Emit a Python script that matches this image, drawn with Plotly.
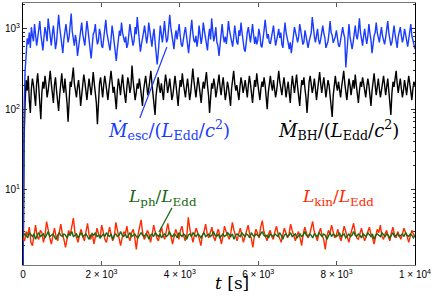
import numpy as np
import plotly.graph_objects as go

# --- data ---
blue = [0.5, 90, 300, 520, 760, 640, 900, 580, 1050, 820, 700, 1150, 820, 620, 760,
        980, 1250, 860, 660, 540, 780, 1050, 900, 700, 1350, 980, 740, 620, 860, 1100,
        800, 560, 680, 950, 1500, 1050, 820, 640, 500, 740, 900, 1150, 880, 680, 800,
        1100, 1550, 920, 780, 620, 840, 700, 460, 580, 820, 1000, 1200, 860, 740, 620,
        900, 1250, 980, 680, 560, 430, 640, 860, 920, 1150, 800, 640, 720, 1000, 860,
        620, 580, 820, 1050, 1300, 900, 760, 620, 540, 740, 1100, 880, 680, 600, 400,
        560, 800, 950, 820, 1200, 900, 740, 680, 800, 580, 640, 960, 1150, 900, 780,
        620, 720, 1050, 860, 1400, 1000, 680, 520, 640, 740, 900, 1100, 800, 660, 820,
        1200, 950, 720, 600, 820, 1000, 700, 540, 360, 500, 820, 1100, 860, 680, 900,
        1250, 880, 680, 740, 1000, 1500, 1050, 820, 680, 560, 780, 960, 740, 900, 1150,
        820, 640, 600, 800, 900, 1050, 780, 640, 500, 700, 960, 1300, 900, 720, 680,
        820, 600, 740, 1100, 900, 650, 800, 1200, 960, 820, 650, 540, 800, 1000, 740,
        1350, 950, 700, 820, 1050, 680, 620, 460, 650, 900, 1150, 820, 680, 800, 650,
        860, 1250, 960, 800, 720, 600, 780, 1100, 860, 680, 640, 960, 820, 1200, 900,
        700, 560, 520, 740, 900, 1050, 820, 680, 880, 1150, 850, 650, 800, 640, 720,
        1000, 850, 620, 590, 720, 960, 1300, 960, 760, 860, 680, 650, 780, 900, 1100,
        800, 620, 720, 820, 1000, 770, 900, 640, 580, 870, 1200, 900, 800, 670, 560,
        680, 500, 720, 820, 1050, 900, 740, 680, 800, 1150, 960, 820, 640, 680, 960,
        820, 640, 580, 700, 820, 900, 1400, 1000, 800, 680, 820, 1000, 740, 640, 740,
        860, 1100, 880, 780, 580, 640, 700, 900, 1250, 900, 830, 670, 740, 800, 960,
        720, 620, 600, 740, 820, 1050, 870, 770, 330, 560, 900, 1150, 800, 640, 560,
        680, 900, 1100, 820, 740, 960, 1350, 900, 680, 620, 820, 1000, 780, 650, 820,
        1150, 880, 720, 500, 670, 820, 900, 1200, 900, 770, 680, 860, 1050, 820, 700,
        640, 780, 960, 1250, 900, 740, 620, 680, 820, 1100, 850, 720, 580, 800, 900,
        1050, 820, 680, 780, 1000, 860, 650, 600, 740, 960, 1150, 820, 680, 640, 560]
black = [0.5, 40, 120, 230, 170, 260, 130, 90, 180, 240, 200, 150, 110, 210, 280,
         190, 130, 75, 160, 220, 180, 260, 200, 140, 170, 230, 300, 210, 150, 120,
         200, 250, 170, 130, 95, 150, 210, 280, 190, 160, 240, 180, 120, 70, 140,
         220, 190, 260, 330, 210, 160, 140, 190, 230, 170, 110, 150, 200, 270, 220,
         160, 130, 180, 240, 190, 150, 200, 290, 210, 160, 120, 65, 150, 210, 250,
         180, 140, 200, 260, 210, 170, 130, 180, 230, 300, 220, 160, 190, 140, 100,
         170, 240, 200, 150, 210, 270, 190, 140, 120, 180, 250, 210, 160, 190, 350,
         230, 170, 130, 160, 210, 180, 240, 190, 140, 110, 170, 220, 260, 200, 150,
         180, 240, 300, 210, 160, 120, 85, 150, 200, 250, 190, 160, 210, 170, 130,
         200, 270, 220, 160, 190, 240, 180, 130, 150, 210, 260, 200, 150, 110, 170,
         230, 190, 280, 210, 160, 140, 190, 240, 180, 130, 160, 220, 320, 230, 170,
         140, 190, 250, 200, 150, 120, 170, 220, 180, 240, 290, 200, 150, 90, 160,
         210, 180, 240, 200, 140, 170, 230, 270, 190, 150, 200, 250, 180, 130, 160,
         220, 190, 150, 110, 180, 240, 300, 210, 170, 200, 160, 130, 190, 250, 210,
         160, 190, 230, 180, 140, 200, 260, 210, 150, 120, 170, 230, 190, 280, 210,
         160, 130, 180, 220, 190, 250, 200, 150, 100, 160, 210, 260, 200, 170, 230,
         190, 140, 170, 240, 300, 220, 170, 150, 200, 250, 190, 140, 180, 220, 160,
         120, 190, 260, 200, 160, 210, 270, 190, 150, 110, 170, 230, 200, 250, 180,
         140, 90, 160, 220, 260, 200, 160, 190, 240, 180, 130, 170, 230, 290, 210,
         160, 200, 250, 190, 140, 180, 230, 200, 150, 120, 80, 150, 210, 260, 200,
         170, 220, 180, 140, 190, 250, 300, 210, 160, 130, 180, 240, 200, 150, 190,
         230, 180, 270, 200, 150, 120, 170, 220, 190, 250, 210, 160, 140, 190, 240,
         200, 160, 110, 170, 230, 280, 200, 150, 190, 240, 180, 140, 170, 220, 260,
         200, 150, 190, 240, 170, 130, 85, 160, 220, 190, 250, 300, 210, 160, 200,
         240, 180, 140, 170, 230, 190, 150, 200, 260, 210, 160, 130, 180, 220, 190]
red = [2.5, 2.3, 3.0, 2.7, 3.4, 2.2, 2.0, 2.8, 3.6, 2.6,
       2.4, 3.1, 2.9, 2.2, 2.7, 4.0, 3.0, 2.5, 2.1, 2.8,
       3.3, 2.6, 2.3, 2.9, 3.7, 2.8, 2.4, 1.9, 2.6, 3.1,
       2.7, 3.5, 4.4, 2.9, 2.5, 2.2, 2.8, 3.2, 2.6, 2.3,
       3.0, 3.8, 2.7, 2.4, 2.9, 2.1, 2.6, 3.3, 2.8, 2.5,
       3.6, 3.0, 2.4, 2.2, 2.9, 3.4, 2.7, 2.3, 2.6, 3.9,
       3.1, 2.6, 2.0, 2.5, 3.0, 2.8, 3.5, 2.6, 2.3, 2.9,
       3.2, 2.5, 1.8, 2.7, 3.3, 4.2, 2.9, 2.4, 2.6, 3.1,
       2.8, 2.2, 2.7, 3.6, 3.0, 2.5, 2.3, 2.9, 3.4, 2.7,
       2.4, 3.0, 3.8, 2.9, 2.6, 2.1, 2.7, 3.2, 2.8, 2.4,
       3.1, 3.5, 2.7, 2.3, 2.6, 4.5, 3.2, 2.6, 2.2, 2.8,
       3.3, 2.9, 2.5, 2.0, 2.7, 3.0, 3.7, 2.8, 2.5, 2.9,
       3.4, 2.6, 2.3, 2.8, 3.2, 2.7, 2.1, 2.6, 3.5, 3.0,
       2.6, 2.4, 2.9, 3.9, 3.1, 2.6, 2.3, 2.8, 3.3, 2.7,
       2.2, 2.6, 3.0, 3.6, 2.8, 2.5, 1.9, 2.7, 3.2, 2.9,
       2.5, 3.4, 4.1, 3.0, 2.6, 2.3, 2.8, 3.1, 2.6, 2.4,
       3.0, 3.5, 2.8, 2.4, 2.2, 2.7, 3.3, 2.9, 2.5, 2.8,
       3.7, 3.1, 2.6, 2.3, 2.7, 3.0, 2.5, 2.0, 2.8, 3.4,
       2.9, 2.5, 2.7, 3.2, 4.0, 3.0, 2.6, 2.3, 2.9, 3.3,
       2.7, 2.4, 1.8, 2.6, 3.1, 2.8, 3.6, 2.9, 2.5, 2.7,
       3.2, 2.6, 2.3, 2.8, 3.5, 3.0, 2.6, 2.2, 2.7, 3.1,
       3.8, 2.9, 2.5, 2.4, 2.8, 3.3, 2.7, 2.3, 2.6, 3.0,
       3.4, 2.8, 2.5, 2.1, 2.7, 3.2, 2.9, 3.6, 2.6, 2.4,
       2.8, 3.1, 2.6, 2.3, 2.9, 3.4, 2.7, 2.5, 3.0, 2.6,
       2.4, 2.8, 3.3, 2.9, 2.6, 2.2, 2.7, 3.1, 2.8, 2.6]
green = [2.6, 2.8, 2.7, 2.5, 2.9, 2.7, 2.6, 2.8, 2.4, 2.7,
         2.9, 2.6, 2.7, 2.8, 2.5, 2.7, 3.0, 2.6, 2.7, 2.8,
         2.6, 2.4, 2.7, 2.9, 2.7, 2.6, 2.8, 2.7, 2.5, 2.8,
         2.7, 3.0, 2.6, 2.7, 2.8, 2.5, 2.7, 2.9, 2.6, 2.7,
         2.8, 2.6, 2.4, 2.7, 2.8, 2.7, 2.9, 2.6, 2.7, 2.5,
         2.7, 2.8, 2.6, 2.9, 2.7, 2.6, 2.8, 2.4, 2.7, 2.8,
         2.6, 2.7, 3.0, 2.7, 2.6, 2.8, 2.5, 2.7, 2.9, 2.6,
         2.7, 2.8, 2.6, 2.5, 2.7, 2.9, 2.7, 2.6, 2.8, 2.7,
         2.4, 2.7, 2.8, 2.6, 2.9, 2.7, 2.6, 2.8, 2.5, 2.7,
         2.8, 2.6, 2.7, 3.0, 2.7, 2.6, 2.8, 2.7, 2.5, 2.9,
         2.7, 2.6, 2.8, 2.7, 2.4, 2.7, 2.8, 2.6, 2.9, 2.7,
         2.6, 2.8, 2.7, 2.5, 2.7, 2.9, 2.6, 2.7, 2.8, 2.6,
         2.7, 3.0, 2.7, 2.6, 2.8, 2.5, 2.7, 2.8, 2.6, 2.7,
         2.9, 2.7, 2.6, 2.8, 2.4, 2.7, 2.8, 2.7, 2.6, 2.9,
         2.7, 2.6, 2.8, 2.7, 2.5, 2.9, 2.7, 2.6, 2.8, 2.7,
         2.6, 2.8, 3.0, 2.7, 2.6, 2.7, 2.5, 2.8, 2.7, 2.6,
         2.8, 2.7, 2.6, 2.9, 2.7, 2.4, 2.7, 2.8, 2.6, 2.7,
         2.9, 2.6, 2.7, 2.8, 2.5, 2.7, 2.8, 2.6, 2.7, 3.0,
         2.7, 2.6, 2.8, 2.7, 2.5, 2.8, 2.7, 2.6, 2.9, 2.7,
         2.6, 2.8, 2.7, 2.4, 2.7, 2.9, 2.6, 2.8, 2.7, 2.6,
         2.7, 2.9, 2.6, 2.7, 2.8, 2.5, 2.7, 2.8, 2.6, 2.7,
         3.0, 2.7, 2.6, 2.8, 2.7, 2.5, 2.8, 2.7, 2.6, 2.9,
         2.7, 2.6, 2.8, 2.4, 2.7, 2.8, 2.7, 2.6, 2.9, 2.7,
         2.6, 2.8, 2.7, 2.5, 2.7, 2.9, 2.6, 2.7, 2.8, 2.6,
         2.7, 2.8, 2.6, 2.9, 2.7, 2.6, 2.8, 2.7, 2.5, 2.7]

t_end = 1e4
x_tickvals = [0, 2000, 4000, 6000, 8000, 10000]
x_ticktext = ["0", "2 × 10<sup>3</sup>", "4 × 10<sup>3</sup>", "6 × 10<sup>3</sup>",
              "8 × 10<sup>3</sup>", "1 × 10<sup>4</sup>"]
y_tickvals = [10, 100, 1000]
y_ticktext = ["10<sup>1</sup>", "10<sup>2</sup>", "10<sup>3</sup>"]


def times(s):
    return np.linspace(0, t_end, len(s))


BLUE = "#1a3cff"
RED = "#ff2a00"
GREEN = "#17680f"

fig = go.Figure()
fig.add_trace(go.Scatter(x=times(black), y=black, mode="lines", line=dict(color="black", width=1.4)))
fig.add_trace(go.Scatter(x=times(blue), y=blue, mode="lines", line=dict(color=BLUE, width=1.4)))
fig.add_trace(go.Scatter(x=times(red), y=red, mode="lines", line=dict(color=RED, width=1.4)))
fig.add_trace(go.Scatter(x=times(green), y=green, mode="lines", line=dict(color=GREEN, width=1.4)))

serif = "DejaVu Serif"
sans = "Liberation Sans"

annos = [
    dict(x=0.372, y=0.515, size=18, text="<i>Ṁ</i><sub>esc</sub>/(<i>L</i><sub>Edd</sub>/<i>c</i><sup>2</sup>)", color=BLUE),
    dict(x=0.804, y=0.515, size=18, text="<i>Ṁ</i><sub>BH</sub>/(<i>L</i><sub>Edd</sub>/<i>c</i><sup>2</sup>)", color="black"),
    dict(x=0.357, y=0.258, size=17, text="<i>L</i><sub>ph</sub>/<i>L</i><sub>Edd</sub>", color=GREEN),
    dict(x=0.804, y=0.258, size=17, text="<i>L</i><sub>kin</sub>/<i>L</i><sub>Edd</sub>", color=RED),
]
for a in annos:
    fig.add_annotation(x=a["x"], y=a["y"], xref="paper", yref="paper", text=a["text"],
                       xanchor="center", yanchor="middle", showarrow=False,
                       font=dict(family=serif, size=a["size"], color=a["color"]))

fig.add_annotation(x=0.533, y=-0.069, xref="paper", yref="paper", xanchor="center", yanchor="middle",
                   text="<i>t</i> [s]", showarrow=False, font=dict(family=serif, size=17, color="black"))

fig.add_shape(type="line", xref="paper", yref="paper", x0=0.298, y0=0.561, x1=0.367, y1=0.832,
              line=dict(color=BLUE, width=1.2))
fig.add_shape(type="line", xref="paper", yref="paper", x0=0.380, y0=0.218, x1=0.347, y1=0.126,
              line=dict(color=GREEN, width=1.2))

minor_vals = [m * 10 ** e for e in range(0, 4) for m in range(2, 10)]

fig.update_layout(
    width=436, height=299,
    margin=dict(l=23, r=21, t=3, b=34),
    paper_bgcolor="white", plot_bgcolor="white",
    showlegend=False,
    font=dict(family=sans, size=10, color="black"),
    xaxis=dict(range=[0, t_end], tickvals=x_tickvals, ticktext=x_ticktext, ticks="inside",
               ticklen=4, tickcolor="#555", showline=True, linecolor="#777", linewidth=1,
               mirror="allticks", showgrid=False, zeroline=False, automargin=False,
               tickfont=dict(family=sans, size=10)),
    yaxis=dict(type="log", range=[np.log10(1.15), np.log10(2100)], tickvals=y_tickvals,
               ticktext=y_ticktext, ticks="inside", ticklen=4, tickcolor="#333", showline=True,
               linecolor="black", linewidth=1, mirror="allticks", showgrid=False, zeroline=False,
               automargin=False, tickfont=dict(family=sans, size=10),
               minor=dict(tickvals=minor_vals, ticks="inside", ticklen=2, tickcolor="#333", showgrid=False)),
)

fig.write_html("out.html", config={"displayModeBar": False},
               post_script="document.body.style.margin='0px';")
